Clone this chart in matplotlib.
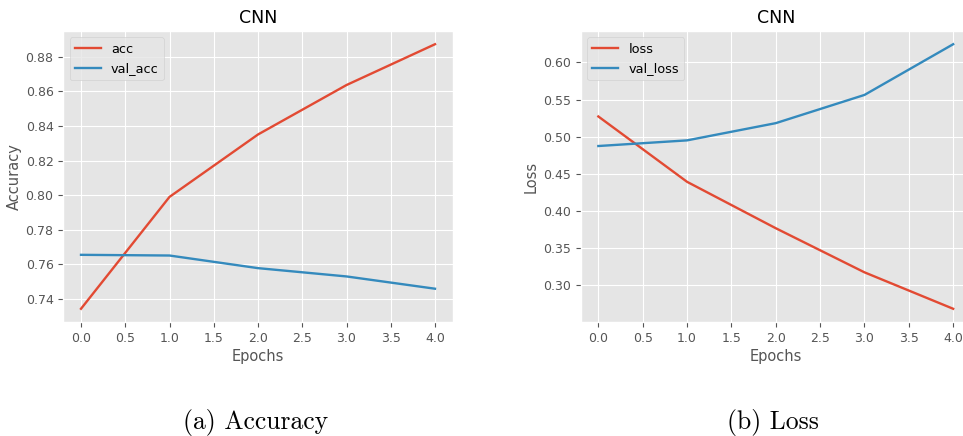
import matplotlib
matplotlib.use("Agg")
import matplotlib.pyplot as plt

plt.style.use("ggplot")

epochs = [0, 1, 2, 3, 4]
acc = [0.7343, 0.7990, 0.8351, 0.8637, 0.8873]
val_acc = [0.7655, 0.7651, 0.7578, 0.7530, 0.7459]
loss = [0.5273, 0.4393, 0.3768, 0.3174, 0.2683]
val_loss = [0.4875, 0.4951, 0.5183, 0.5563, 0.6246]

title = "CNN"
captions = ["(a) Accuracy", "(b) Loss"]

W, H = 963, 436
fig = plt.figure(figsize=(W / 100, H / 100), dpi=100)
fig.patch.set_facecolor("white")

ax1 = fig.add_axes([63.3 / W, (H - 322) / H, 389.4 / W, 291 / H])
ax2 = fig.add_axes([580.6 / W, (H - 322) / H, 390.3 / W, 291 / H])

def style(ax, ylabel):
    ax.set_title(title, fontsize=12.5, color="black", pad=6)
    ax.set_xlabel("Epochs", fontsize=10.5, color="#555555", labelpad=3)
    ax.set_ylabel(ylabel, fontsize=10.5, color="#555555", labelpad=3)
    ax.tick_params(labelsize=9, colors="#555555", labelcolor="#555555")
    ax.legend(loc="upper left", fontsize=9.3)

ax1.plot(epochs, acc, label="acc", lw=1.7)
ax1.plot(epochs, val_acc, label="val_acc", lw=1.7)
ax1.set_yticks([0.74, 0.76, 0.78, 0.80, 0.82, 0.84, 0.86, 0.88])
style(ax1, "Accuracy")

ax2.plot(epochs, loss, label="loss", lw=1.7)
ax2.plot(epochs, val_loss, label="val_loss", lw=1.7)
ax2.set_yticks([0.30, 0.35, 0.40, 0.45, 0.50, 0.55, 0.60])
style(ax2, "Loss")

fig.text(256 / W, 1 - 422 / H, captions[0], family="cmr10", fontsize=18.5,
         ha="center", va="center", color="black")
fig.text(773 / W, 1 - 422 / H, captions[1], family="cmr10", fontsize=18.5,
         ha="center", va="center", color="black")

fig.savefig("out.png", dpi=100, facecolor="white")
